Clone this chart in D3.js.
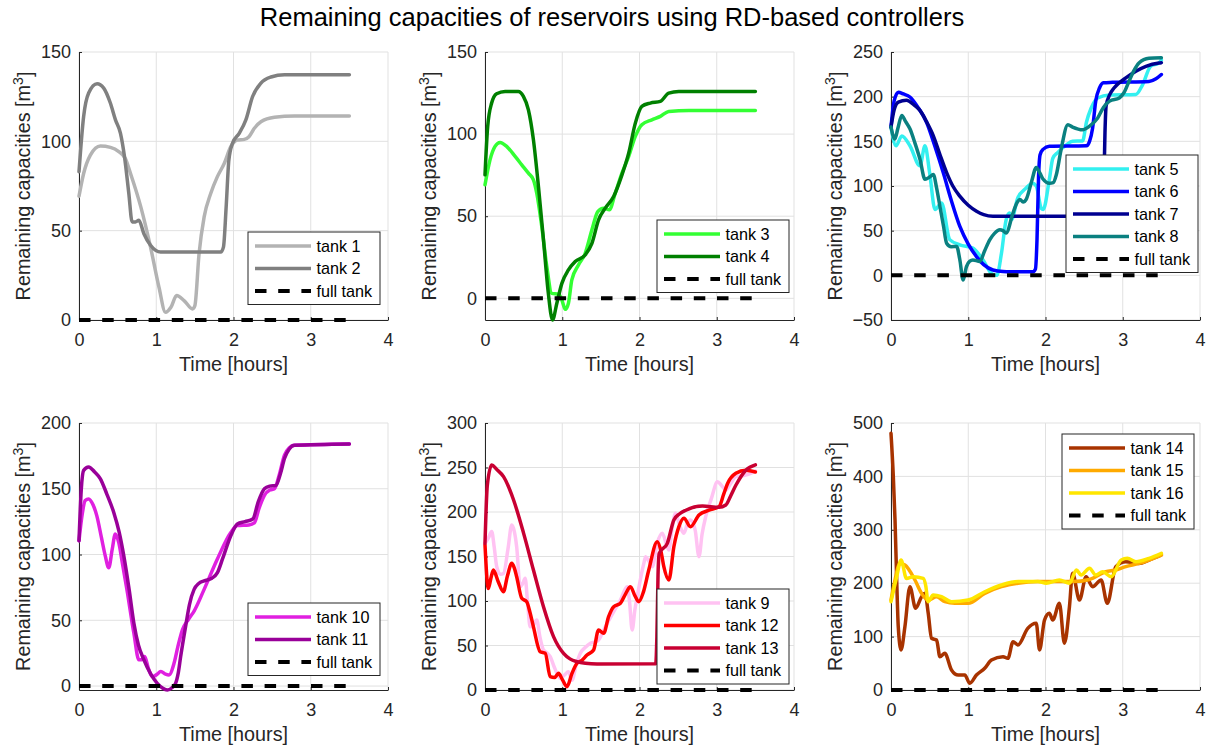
<!DOCTYPE html>
<html><head><meta charset="utf-8">
<script src="https://cdn.jsdelivr.net/npm/d3@7"></script>
<style>body{margin:0;background:#fff}svg{display:block}</style>
</head><body><svg id="c" width="1220" height="751"></svg>
<script>
// ---- data: [time (hours), remaining capacity (m^3)] ----
const tank1 = [[0,69.3],[0.06,82],[0.147,92.3],[0.277,97.4],[0.407,96.6],[0.515,94.2],[0.6,90.4],[0.667,82],[0.8,63.3],[0.926,40.8],[1.035,18.4],[1.12,4.3],[1.19,7.1],[1.264,13.7],[1.36,10.9],[1.47,6.2],[1.5,8],[1.554,37],[1.62,57.7],[1.705,70.8],[1.79,80.1],[1.88,87.6],[1.965,97],[2.05,100.7],[2.14,101.1],[2.2,102.6],[2.27,107.3],[2.355,111],[2.53,113.5],[2.79,114.2],[3.5,114.2]];
const tank2 = [[0,83],[0.06,113.9],[0.125,127],[0.234,132.2],[0.32,129.8],[0.407,121.3],[0.472,112],[0.537,104.5],[0.589,91.4],[0.645,70.8],[0.688,54.9],[0.73,54.9],[0.775,55.8],[0.84,48.3],[0.926,41.8],[1.056,38],[1.835,38],[1.87,40.8],[1.905,63.3],[1.94,89.5],[1.987,98.9],[2.074,104.5],[2.16,112],[2.247,125],[2.355,132.6],[2.485,136],[2.66,137.3],[3.5,137.3]];
const tank3 = [[0,69.1],[0.065,84.3],[0.13,92.5],[0.195,94.9],[0.28,92.5],[0.39,86.4],[0.476,81.3],[0.562,76.2],[0.627,72.2],[0.67,64],[0.735,43.7],[0.8,19.3],[0.865,3],[0.95,2.6],[0.995,-1],[1.04,-6.7],[1.08,-3],[1.124,11.2],[1.21,20.3],[1.297,27.4],[1.384,41.7],[1.46,52.8],[1.535,54.9],[1.61,53.9],[1.686,64],[1.773,76.2],[1.86,86.4],[1.946,98.6],[2.03,105.7],[2.16,108.7],[2.27,110.8],[2.378,113.8],[2.64,114.4],[3.5,114.4]];
const tank4 = [[0,75.2],[0.035,104.7],[0.086,118.9],[0.15,124.6],[0.26,126],[0.43,126],[0.497,123],[0.562,114.8],[0.627,96.5],[0.692,68],[0.757,35.6],[0.82,3],[0.874,-13.2],[0.93,-3],[0.995,9.1],[1.08,17.3],[1.168,22.4],[1.297,26.4],[1.384,33.5],[1.47,47.8],[1.557,54.9],[1.665,62],[1.773,75.2],[1.86,88.4],[1.946,106.7],[2.03,116.9],[2.14,118.9],[2.27,119.9],[2.378,125],[2.508,126],[3.5,126]];
const tank5 = [[0,166],[0.065,145],[0.14,156],[0.245,145],[0.375,122.6],[0.44,145],[0.5,115],[0.57,73.7],[0.655,81],[0.76,40],[0.89,34.2],[1.06,30.5],[1.19,17.3],[1.3,2.3],[1.37,0],[1.43,24.8],[1.49,62],[1.535,69.7],[1.56,62.4],[1.64,86.5],[1.75,97.7],[1.83,103],[1.88,100],[1.945,75],[1.97,73.7],[2.05,107.5],[2.095,131],[2.16,137.6],[2.27,146],[2.35,150],[2.48,150.5],[2.53,171.4],[2.59,187],[2.675,198.5],[2.83,202],[3.17,202.5],[3.255,213],[3.36,234],[3.47,237.7],[3.5,241]];
const tank6 = [[0,166],[0.04,195],[0.095,205],[0.16,203],[0.245,199.6],[0.35,188],[0.46,171.4],[0.57,144],[0.676,115],[0.78,84],[0.89,55],[1.0,35],[1.107,21],[1.2,12],[1.32,6],[1.45,4.3],[1.54,4.1],[1.84,4.1],[1.87,7],[1.89,40],[1.91,110],[1.93,135],[1.968,141],[2.05,144.5],[2.53,145],[2.57,150],[2.61,165],[2.65,195],[2.7,210],[2.75,215.5],[2.87,216],[3.34,217],[3.43,220],[3.5,224.8]];
const tank7 = [[0,166],[0.04,185],[0.095,194],[0.2,195.9],[0.3,190.5],[0.375,184.6],[0.46,172],[0.547,156.4],[0.63,136],[0.72,115],[0.8,100],[0.89,88.7],[1.0,78.5],[1.107,71.8],[1.2,68],[1.32,66.2],[2.74,66.2],[2.755,100],[2.77,160],[2.785,190],[2.83,202],[2.89,210],[3.04,221],[3.17,228.5],[3.3,234],[3.47,237.7],[3.5,238]];
const tank8 = [[0,166],[0.05,152.6],[0.09,165],[0.14,179],[0.19,172],[0.245,164],[0.31,148],[0.375,130],[0.44,107.5],[0.5,110],[0.547,113],[0.59,98],[0.633,77.4],[0.68,55],[0.72,36],[0.78,32],[0.85,32.3],[0.89,18],[0.934,-5.3],[0.977,9.8],[1.02,16],[1.06,17.3],[1.15,15.4],[1.21,27],[1.28,40],[1.34,47],[1.41,51],[1.45,50],[1.49,47.4],[1.58,70],[1.63,81],[1.67,85],[1.71,82],[1.75,85],[1.82,105],[1.88,120.7],[1.93,114],[1.97,107.5],[2.05,103],[2.1,103.8],[2.14,112.6],[2.2,140],[2.29,168.6],[2.35,166],[2.48,163],[2.57,167],[2.675,176],[2.75,188],[2.83,195],[2.955,198.5],[3.02,205],[3.08,217],[3.15,230],[3.21,237.7],[3.34,243],[3.5,243.5]];
const tank9 = [[0,165],[0.04,170],[0.087,178],[0.12,160],[0.152,138.5],[0.2,130],[0.24,131],[0.3,160],[0.346,185.4],[0.38,178],[0.41,161],[0.455,116],[0.49,120],[0.52,125.5],[0.55,100],[0.584,71],[0.62,72],[0.67,78.6],[0.71,60],[0.757,45],[0.8,42],[0.844,37.4],[0.9,25],[0.974,13],[1.03,17],[1.08,20.6],[1.126,11],[1.18,28],[1.234,41.2],[1.3,48],[1.364,52.5],[1.42,54],[1.47,56.2],[1.558,71],[1.666,88],[1.753,101],[1.84,116],[1.87,100],[1.905,67.4],[1.94,90],[1.97,104.8],[2.056,142.3],[2.08,149.8],[2.12,145],[2.165,138.5],[2.23,165],[2.294,176],[2.38,157.3],[2.42,180],[2.467,198.5],[2.52,185],[2.575,176],[2.62,187],[2.66,191],[2.72,180],[2.77,149.8],[2.81,175],[2.857,194.7],[2.93,215],[3.01,234],[3.06,230],[3.117,224.7],[3.18,232],[3.247,239.7],[3.35,241],[3.44,243.5],[3.5,246]];
const tank10 = [[0,110.5],[0.04,130],[0.08,141],[0.125,142.3],[0.18,138],[0.23,129.6],[0.29,113],[0.34,99],[0.385,90],[0.43,104],[0.47,115.6],[0.515,109],[0.56,94],[0.62,73.5],[0.71,40.3],[0.775,20],[0.81,20],[0.85,22.4],[0.9,13],[0.95,7.1],[1.0,8.5],[1.06,11],[1.12,9],[1.165,8.4],[1.23,17.3],[1.28,30],[1.34,42.9],[1.42,51],[1.49,57],[1.62,73.5],[1.79,96.4],[1.965,116.8],[2.05,122],[2.2,122.5],[2.27,124],[2.33,135],[2.4,145],[2.47,149],[2.53,150],[2.59,160],[2.66,175.5],[2.72,181],[2.79,183],[3.5,184]];
const tank11 = [[0,110.5],[0.03,150],[0.06,164],[0.125,166.6],[0.2,163],[0.277,157.6],[0.36,146],[0.45,132],[0.52,117],[0.58,99],[0.65,73],[0.71,48],[0.77,31],[0.84,20],[0.93,9],[1.013,2],[1.08,-1.5],[1.143,-3],[1.2,-1.5],[1.25,2],[1.285,10],[1.316,22.4],[1.38,45.4],[1.43,62],[1.49,73.5],[1.55,78],[1.62,80],[1.72,82],[1.79,86],[1.86,97],[1.965,114.3],[2.05,123.2],[2.15,125],[2.25,127],[2.32,140],[2.4,150],[2.47,152],[2.55,152.6],[2.61,162],[2.66,173],[2.72,180],[2.79,183],[3.5,184]];
const tank12 = [[0,163],[0.043,114],[0.075,125],[0.108,134.8],[0.17,122],[0.238,110.4],[0.29,128],[0.346,142.3],[0.38,137],[0.41,127.3],[0.476,103],[0.54,99.2],[0.58,88],[0.627,71],[0.714,43],[0.78,41.2],[0.844,15],[0.9,14],[0.952,18.7],[1.0,12],[1.06,3.7],[1.126,18.7],[1.19,30],[1.25,33],[1.32,39.3],[1.406,45],[1.47,67.4],[1.536,63.7],[1.6,82.4],[1.666,93.6],[1.753,97.4],[1.82,108],[1.883,116],[1.94,106],[1.99,99.2],[2.05,110],[2.12,134.8],[2.23,166.6],[2.28,155],[2.315,138.5],[2.38,123.6],[2.445,161],[2.51,183.5],[2.575,193],[2.66,183.5],[2.77,196.6],[2.9,202],[3.03,206],[3.09,220],[3.14,232],[3.247,243.5],[3.377,247],[3.5,245]];
const tank13 = [[0,164.8],[0.03,230],[0.087,252.8],[0.15,248],[0.24,239.7],[0.37,213.5],[0.5,176],[0.627,134.8],[0.757,93.6],[0.887,60],[1.017,41.2],[1.1,35],[1.19,31.8],[1.3,30],[1.45,29.2],[2.21,29.5],[2.225,60],[2.24,130],[2.255,153.6],[2.36,164.8],[2.445,191],[2.52,198],[2.6,202],[2.815,206.7],[3.03,205.3],[3.117,207.9],[3.18,218],[3.247,230],[3.377,247],[3.5,253]];
const tank14 = [[0,480.7],[0.03,400],[0.052,318],[0.075,200],[0.094,118.5],[0.13,75],[0.18,118.5],[0.245,193.5],[0.318,153],[0.396,174.7],[0.44,181],[0.482,143.6],[0.525,96.8],[0.59,93.6],[0.633,62.4],[0.697,68.7],[0.783,37.5],[0.87,28],[0.955,28],[1.02,12.5],[1.106,28],[1.213,40.6],[1.3,56],[1.45,62.4],[1.513,59.3],[1.58,90.4],[1.643,84.3],[1.77,115.5],[1.88,125],[1.923,75],[1.987,131],[2.05,143.6],[2.094,131],[2.18,162.3],[2.245,87.4],[2.31,156],[2.35,218.5],[2.44,168.5],[2.525,212],[2.61,193.5],[2.72,206],[2.8,162.3],[2.91,231],[3.04,240.3],[3.21,237],[3.34,243.4],[3.5,253]];
const tank15 = [[0,168.5],[0.05,205],[0.116,237],[0.18,234],[0.31,206],[0.396,181],[0.48,168.5],[0.59,174.7],[0.697,165.4],[0.826,162.3],[0.998,162.3],[1.213,181],[1.43,193.5],[1.643,200],[1.9,203],[2.05,203],[2.35,203],[2.57,207],[2.78,221.5],[2.91,224.7],[3.04,231],[3.21,237],[3.5,252.8]];
const tank16 = [[0,165.4],[0.074,212],[0.13,243.4],[0.2,209],[0.288,212],[0.417,209],[0.45,195],[0.48,165.4],[0.546,178],[0.654,174.7],[0.783,165.4],[0.998,168.5],[1.213,184],[1.43,196.6],[1.643,203],[1.9,203],[2.01,200],[2.18,206],[2.31,200],[2.4,224.7],[2.46,215.3],[2.57,228],[2.65,215.3],[2.74,221.5],[2.85,212],[2.98,243.4],[3.06,246.6],[3.17,240.3],[3.34,246.6],[3.5,256]];
const fullTank = [[0,0],[3.5,0]];

const xTicks = [0,1,2,3,4];
const yTicksA = [0,50,100,150];
const yTicksB = [-50,0,50,100,150,200,250];
const yTicksC = [0,50,100,150,200];
const yTicksD = [0,50,100,150,200,250,300];
const yTicksE = [0,100,200,300,400,500];

const titleText = "Remaining capacities of reservoirs using RD-based controllers";
const xLabel = "Time [hours]";

// ---- layout ----
const FONT = "'Liberation Sans', Arial, Helvetica, sans-serif";
const TXT = "#262626";
const colX = [79, 485, 891], rowY = [52, 423];
const PW = 309, PH = [268, 267];

const panels = [
  {col:0,row:0,yDomain:[0,150],yTicks:yTicksA,legend:[248,232],
   series:[{name:"tank 1",data:tank1,color:"#b3b3b3"},{name:"tank 2",data:tank2,color:"#808080"}]},
  {col:1,row:0,yDomain:[-13.2,150],yTicks:yTicksA,legend:[657,220],
   series:[{name:"tank 3",data:tank3,color:"#33ff33"},{name:"tank 4",data:tank4,color:"#008000"}]},
  {col:2,row:0,yDomain:[-50,250],yTicks:yTicksB,legend:[1066,155],
   series:[{name:"tank 5",data:tank5,color:"#33f0f0"},{name:"tank 6",data:tank6,color:"#0000ff"},{name:"tank 7",data:tank7,color:"#000090"},{name:"tank 8",data:tank8,color:"#0a8080"}]},
  {col:0,row:1,yDomain:[-3,200],yTicks:yTicksC,legend:[248,603],
   series:[{name:"tank 10",data:tank10,color:"#e020e0"},{name:"tank 11",data:tank11,color:"#990099"}]},
  {col:1,row:1,yDomain:[0,300],yTicks:yTicksD,legend:[657,589],
   series:[{name:"tank 9",data:tank9,color:"#ffc2f2"},{name:"tank 12",data:tank12,color:"#ff0000"},{name:"tank 13",data:tank13,color:"#c80032"}]},
  {col:2,row:1,yDomain:[0,500],yTicks:yTicksE,legend:[1062,434],
   series:[{name:"tank 14",data:tank14,color:"#a83300"},{name:"tank 15",data:tank15,color:"#ffaa00"},{name:"tank 16",data:tank16,color:"#ffe600"}]}
];

const svg = d3.select("#c");
svg.append("rect").attr("width",1220).attr("height",751).attr("fill","#fff");

svg.append("text").attr("x",612).attr("y",26).attr("text-anchor","middle")
  .attr("font-family",FONT).attr("font-size",25.5).attr("fill","#000").text(titleText);

panels.forEach(p => {
  const x0 = colX[p.col], y0 = rowY[p.row], h = PH[p.row];
  const x = d3.scaleLinear().domain([0,4]).range([x0, x0+PW]);
  const y = d3.scaleLinear().domain(p.yDomain).range([y0+h, y0]);
  const g = svg.append("g");

  // grid
  g.selectAll(".gx").data(xTicks).join("line")
    .attr("x1",d=>x(d)).attr("x2",d=>x(d)).attr("y1",y0).attr("y2",y0+h)
    .attr("stroke","#e1e1e1").attr("stroke-width",1);
  g.selectAll(".gy").data(p.yTicks).join("line")
    .attr("x1",x0).attr("x2",x0+PW).attr("y1",d=>y(d)).attr("y2",d=>y(d))
    .attr("stroke","#e1e1e1").attr("stroke-width",1);

  // axes
  const ax = g.append("g").attr("transform",`translate(0,${y0+h})`)
    .call(d3.axisBottom(x).tickValues(xTicks).tickFormat(d3.format("d")).tickSizeInner(-3).tickSizeOuter(0).tickPadding(13));
  const ay = g.append("g").attr("transform",`translate(${x0},0)`)
    .call(d3.axisLeft(y).tickValues(p.yTicks).tickFormat(d3.format("d")).tickSizeInner(-3).tickSizeOuter(0).tickPadding(8));
  [ax,ay].forEach(a => {
    a.attr("font-family",FONT).attr("font-size",18).attr("color",TXT);
    a.selectAll("text").attr("fill",TXT);
  });

  // axis labels
  g.append("text").attr("x",x0+PW/2).attr("y",y0+h+51).attr("text-anchor","middle")
    .attr("font-family",FONT).attr("font-size",19.8).attr("fill",TXT).text(xLabel);
  const yl = g.append("text").attr("transform",`translate(${x0-49.5},${y0+h/2}) rotate(-90)`)
    .attr("text-anchor","middle").attr("font-family",FONT).attr("font-size",19.8).attr("fill",TXT);
  yl.append("tspan").text("Remaining capacities [m");
  yl.append("tspan").attr("font-size",14).attr("dy","-0.5em").text("3");
  yl.append("tspan").attr("dy","0.5em").text("]");

  // lines
  const line = d3.line().x(d=>x(d[0])).y(d=>y(d[1])).curve(d3.curveMonotoneX);
  p.series.forEach(s => {
    g.append("path").datum(s.data).attr("d",line).attr("fill","none")
      .attr("stroke",s.color).attr("stroke-width",3.5).attr("stroke-linejoin","round").attr("stroke-linecap","round");
  });
  g.append("path").datum(fullTank).attr("d",d3.line().x(d=>x(d[0])).y(d=>y(d[1])))
    .attr("fill","none").attr("stroke","#000").attr("stroke-width",4).attr("stroke-dasharray","11.5,11.7");

  // legend
  const entries = p.series.map(s=>({name:s.name,color:s.color,dash:null})).concat([{name:"full tank",color:"#000",dash:"11.5,11.7"}]);
  const [lx,ly] = p.legend;
  const lw = 132, lh = 14 + (entries.length-1)*22.5 + 13.5;
  const lg = g.append("g");
  lg.append("rect").attr("x",lx).attr("y",ly).attr("width",lw).attr("height",lh)
    .attr("fill","#fff").attr("stroke",TXT).attr("stroke-width",1);
  entries.forEach((e,i) => {
    const ey = ly + 14 + i*22.5;
    lg.append("line").attr("x1",lx+7).attr("x2",lx+63).attr("y1",ey).attr("y2",ey)
      .attr("stroke",e.color).attr("stroke-width",e.dash?4:3.5).attr("stroke-dasharray",e.dash);
    lg.append("text").attr("x",lx+68.4).attr("y",ey).attr("dy","0.36em")
      .attr("font-family",FONT).attr("font-size",16.2).attr("fill","#000").text(e.name);
  });
});
</script></body></html>
